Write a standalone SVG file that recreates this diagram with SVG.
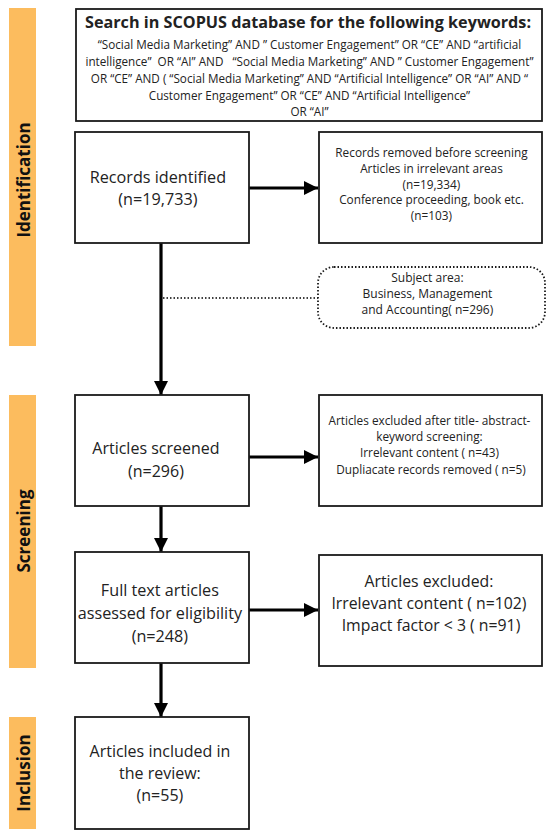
<svg xmlns="http://www.w3.org/2000/svg" width="550" height="837" viewBox="0 0 550 837">
<style>
.bar{fill:#FCBC5E}
.box{fill:#fff;stroke:#1a1a1a;stroke-width:1.8}
.dot{fill:#fff;stroke:#1a1a1a;stroke-width:1.8;stroke-dasharray:1.5 2}
.t{font-family:"Open Sans","Noto Sans","Liberation Sans",sans-serif;fill:#222;text-anchor:middle;white-space:pre}
.side{font-family:"Open Sans","Noto Sans","Liberation Sans",sans-serif;font-weight:bold;font-size:17px;fill:#111;text-anchor:middle}
.ln{stroke:#000;stroke-width:3.2;fill:none}
.dl{stroke:#000;stroke-width:1.6;stroke-dasharray:1.5 2;fill:none}
</style>
<defs>
<marker id="ah" viewBox="0 0 10 10" refX="10" refY="5" markerWidth="4.5" markerHeight="4.8" orient="auto" markerUnits="strokeWidth">
<path d="M0,0 L10,5 L0,10 Z" fill="#000"/>
</marker>
</defs>
<rect width="550" height="837" fill="#fff"/>

<g id="phase-identification">
<rect class="bar" x="9" y="8" width="27" height="338"/>
<text class="side" transform="translate(29.5,180) rotate(-90)">Identification</text>
</g>
<g id="phase-screening">
<rect class="bar" x="9" y="395" width="27" height="273"/>
<text class="side" transform="translate(29.5,531) rotate(-90)">Screening</text>
</g>
<g id="phase-inclusion">
<rect class="bar" x="9" y="717" width="27" height="112"/>
<text class="side" transform="translate(29.5,773) rotate(-90)">Inclusion</text>
</g>

<g id="connectors">
<line class="ln" x1="249" y1="188" x2="318" y2="188" marker-end="url(#ah)"/>
<line class="ln" x1="161" y1="243" x2="161" y2="395" marker-end="url(#ah)"/>
<line class="dl" x1="163" y1="298" x2="318" y2="298"/>
<line class="ln" x1="249" y1="457" x2="318" y2="457" marker-end="url(#ah)"/>
<line class="ln" x1="161" y1="506" x2="161" y2="552" marker-end="url(#ah)"/>
<line class="ln" x1="249" y1="610" x2="318" y2="610" marker-end="url(#ah)"/>
<line class="ln" x1="161" y1="663" x2="161" y2="717" marker-end="url(#ah)"/>
</g>

<g id="search">
<rect class="box" x="76" y="9" width="466" height="112"/>
<text class="t" x="308" y="28" font-size="16.2" font-weight="bold" fill="#111">Search in SCOPUS database for the following keywords:</text>
<text class="t" font-size="11.7">
<tspan x="311" y="49">“Social Media Marketing” AND ” Customer Engagement” OR “CE” AND “artificial</tspan>
<tspan x="311" y="66">intelligence”  OR “AI” AND   “Social Media Marketing” AND ” Customer Engagement”</tspan>
<tspan x="311" y="83">OR “CE” AND ( “Social Media Marketing” AND “Artificial Intelligence” OR “AI” AND “</tspan>
<tspan x="311" y="100">Customer Engagement” OR “CE” AND “Artificial Intelligence”</tspan>
<tspan x="311" y="116">OR “AI”</tspan>
</text>
</g>

<g id="records-identified">
<rect class="box" x="75" y="132" width="174" height="111"/>
<text class="t" font-size="16.2">
<tspan x="160" y="183">Records identified</tspan>
<tspan x="160" y="205">(n=19,733)</tspan>
</text>
</g>

<g id="records-removed">
<rect class="box" x="319" y="132" width="223" height="111"/>
<text class="t" font-size="11.8">
<tspan x="433" y="157">Records removed before screening</tspan>
<tspan x="433" y="173">Articles in irrelevant areas</tspan>
<tspan x="433" y="188.5">(n=19,334)</tspan>
<tspan x="433" y="204">Conference proceeding, book etc.</tspan>
<tspan x="433" y="220">(n=103)</tspan>
</text>
</g>

<g id="subject-area">
<rect class="dot" x="318" y="267" width="227" height="61" rx="16"/>
<text class="t" font-size="12">
<tspan x="429" y="282">Subject area:</tspan>
<tspan x="429" y="298">Business, Management</tspan>
<tspan x="429" y="314">and Accounting( n=296)</tspan>
</text>
</g>

<g id="articles-screened">
<rect class="box" x="75" y="395" width="174" height="111"/>
<text class="t" font-size="16">
<tspan x="158" y="454">Articles screened</tspan>
<tspan x="158" y="477">(n=296)</tspan>
</text>
</g>

<g id="articles-excluded-screening">
<rect class="box" x="319" y="395" width="223" height="111"/>
<text class="t" font-size="11.8">
<tspan x="431" y="425">Articles excluded after title- abstract-</tspan>
<tspan x="431" y="441">keyword screening:</tspan>
<tspan x="431" y="457">Irrelevant content ( n=43)</tspan>
<tspan x="431" y="474"> Dupliacate records removed ( n=5)</tspan>
</text>
</g>

<g id="full-text">
<rect class="box" x="75" y="552" width="174" height="111"/>
<text class="t" font-size="16.2">
<tspan x="162" y="596">Full text articles</tspan>
<tspan x="162" y="619">assessed for eligibility</tspan>
<tspan x="162" y="642">(n=248)</tspan>
</text>
</g>

<g id="articles-excluded">
<rect class="box" x="319" y="555" width="223" height="111"/>
<text class="t" font-size="15.8">
<tspan x="431" y="587">Articles excluded:</tspan>
<tspan x="431" y="609">Irrelevant content ( n=102)</tspan>
<tspan x="431" y="631"> Impact factor &lt; 3 ( n=91)</tspan>
</text>
</g>

<g id="articles-included">
<rect class="box" x="75" y="717" width="174" height="112"/>
<text class="t" font-size="16">
<tspan x="162" y="757">Articles included in</tspan>
<tspan x="162" y="779">the review:</tspan>
<tspan x="162" y="801">(n=55)</tspan>
</text>
</g>
</svg>
